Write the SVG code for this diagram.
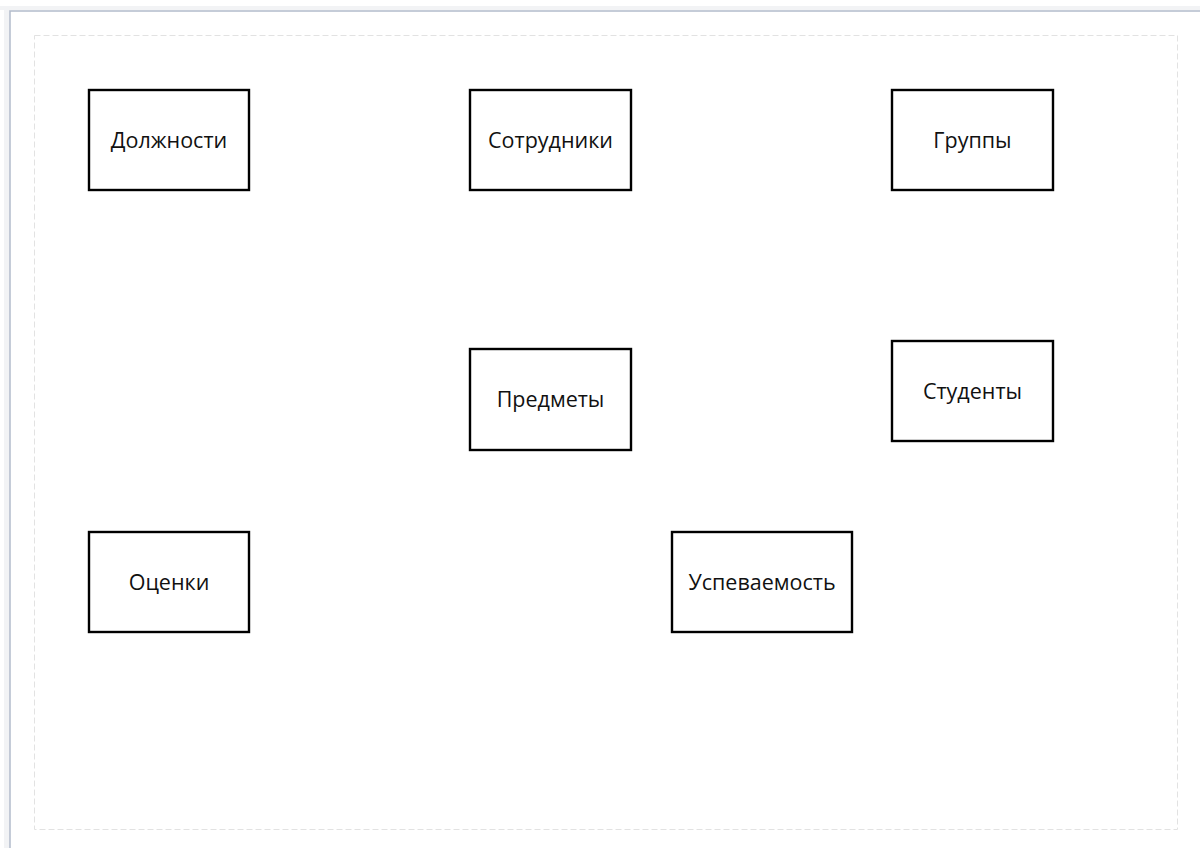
<svg xmlns="http://www.w3.org/2000/svg" width="1200" height="848" viewBox="0 0 1200 848">
  <style>
    .node rect { fill: #ffffff; stroke: #000000; stroke-width: 2.4; }
    .node text { font-family: "Open Sans", "Noto Sans", "Liberation Sans", sans-serif; font-size: 21.5px; fill: #111111; text-anchor: middle; }
  </style>

  <!-- page background -->
  <rect x="0" y="0" width="1200" height="848" fill="#ffffff"/>

  <!-- canvas frame with soft shadow -->
  <g id="canvas">
    <rect x="0" y="6" width="1200" height="4" fill="#f2f3f5"/>
    <rect x="4" y="10" width="6" height="838" fill="#f2f3f5"/>
    <rect x="10" y="11" width="1200" height="850" fill="#ffffff" stroke="#b3bccb" stroke-width="1.5"/>
    <rect x="34.5" y="35.5" width="1143" height="794" fill="none" stroke="#e2e2e2" stroke-width="1" stroke-dasharray="6 3"/>
  </g>

  <g id="node-dolzhnosti" class="node">
    <rect x="89" y="90" width="160" height="100"/>
    <text x="169" y="148">Должности</text>
  </g>
  <g id="node-sotrudniki" class="node">
    <rect x="470" y="90" width="161" height="100"/>
    <text x="550.5" y="148">Сотрудники</text>
  </g>
  <g id="node-gruppy" class="node">
    <rect x="892" y="90" width="161" height="100"/>
    <text x="972.5" y="148">Группы</text>
  </g>
  <g id="node-predmety" class="node">
    <rect x="470" y="349" width="161" height="101"/>
    <text x="550.5" y="407">Предметы</text>
  </g>
  <g id="node-studenty" class="node">
    <rect x="892" y="341" width="161" height="100"/>
    <text x="972.5" y="399">Студенты</text>
  </g>
  <g id="node-otsenki" class="node">
    <rect x="89" y="532" width="160" height="100"/>
    <text x="169" y="590">Оценки</text>
  </g>
  <g id="node-uspevaemost" class="node">
    <rect x="672" y="532" width="180" height="100"/>
    <text x="762" y="590">Успеваемость</text>
  </g>

  <g id="connectors"></g>
</svg>
